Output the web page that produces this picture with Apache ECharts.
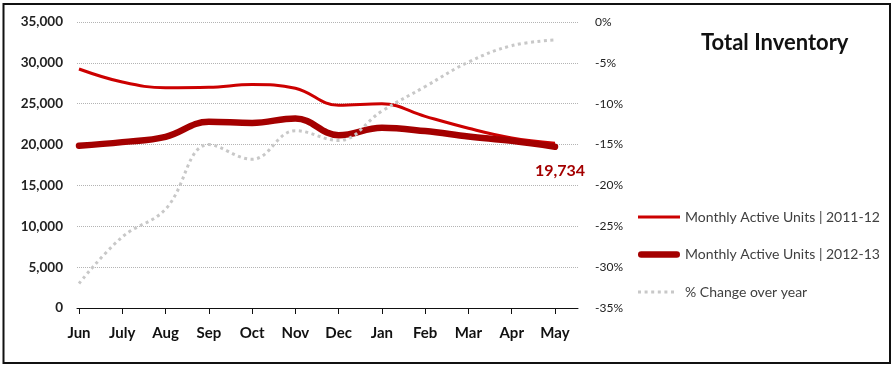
<!DOCTYPE html>
<html>
<head>
<meta charset="utf-8">
<script src="https://cdn.jsdelivr.net/npm/echarts@6/dist/echarts.min.js"></script>
<style>html,body{margin:0;padding:0;background:#fff}#c{width:893px;height:368px}</style>
</head>
<body>
<div id="c"></div>
<script>
const months = ['Jun', 'July', 'Aug', 'Sep', 'Oct', 'Nov', 'Dec', 'Jan', 'Feb', 'Mar', 'Apr', 'May'];
const units2011_12 = [29250, 27650, 26950, 27000, 27350, 26900, 24800, 25000, 23450, 22000, 20800, 20150];
const units2012_13 = [19850, 20300, 20950, 22800, 22650, 23200, 21150, 22050, 21650, 21000, 20450, 19734];
const pctChange = [-32, -26.3, -22.9, -15, -16.8, -13.3, -14.5, -10.9, -7.9, -4.9, -2.9, -2.2];
const seriesNames = ['Monthly Active Units | 2011-12', 'Monthly Active Units | 2012-13', '% Change over year'];
const titleText = 'Total Inventory';

const FONT = 'Lato, Calibri, sans-serif';
const chart = echarts.init(document.getElementById('c'), null, {renderer: 'canvas'});

// legend icons: line shapes inside a 42x14 box (tiny corner marks fix the box)
const BOX = ' M0,0h0.01v0.01h-0.01z M41.99,13.99h0.01v0.01h-0.01z';
const iconThin = 'path://M0,5.5h42v3h-42z' + BOX;
const iconThick = 'path://M3,3.75h36a3.25,3.25 0 0 1 0,6.5h-36a3.25,3.25 0 0 1 0,-6.5z' + BOX;
let dots = '';
for (let k = 0; k < 6; k++) dots += 'M' + (k * 6.6) + ',5.5h3v3h-3z ';
const iconDots = 'path://' + dots + BOX;

const lastIdx = units2012_13.length - 1;
const data1213 = units2012_13.map((v, i) => i === lastIdx ? {
  value: v,
  symbol: 'circle', symbolSize: 0.01,
  label: {
    show: true, position: 'bottom', distance: 16, offset: [5, 0],
    formatter: p => Number(p.value).toLocaleString('en-US'),
    color: '#a40000', fontWeight: 'bold', fontSize: 16, fontFamily: FONT
  }
} : v);

const option = {
  backgroundColor: '#fff',
  animation: false,
  title: {
    text: titleText, left: 701, top: 32, padding: 0,
    textStyle: {fontFamily: FONT, fontSize: 22, fontWeight: 'bold', color: '#111'}
  },
  legend: {
    orient: 'vertical', left: 638, top: 210, padding: 0,
    itemWidth: 42, itemHeight: 14, itemGap: 23.5,
    data: [
      {name: seriesNames[0], icon: iconThin},
      {name: seriesNames[1], icon: iconThick},
      {name: seriesNames[2], icon: iconDots}
    ],
    textStyle: {fontFamily: FONT, fontSize: 14, lineHeight: 14, color: '#404040'}
  },
  graphic: [{
    type: 'rect', shape: {x: 3.5, y: 4, width: 886.5, height: 359},
    style: {fill: 'none', stroke: '#111', lineWidth: 2}, silent: true, z: 100
  }],
  grid: [
    {left: 79, right: 338, top: 22, bottom: 60, outerBoundsMode: 'none', containLabel: false},
    {left: 77, right: 315, top: 22, bottom: 60, outerBoundsMode: 'none', containLabel: false}
  ],
  xAxis: [
    {
      type: 'category', gridIndex: 0, data: months, boundaryGap: false,
      axisLine: {show: true, lineStyle: {color: '#111', width: 1}},
      axisTick: {show: true, length: 6, lineStyle: {color: '#111', width: 1}},
      axisLabel: {interval: 0, margin: 18, fontFamily: FONT, fontWeight: 'bold', fontSize: 15, color: '#111'},
      splitLine: {show: false}
    },
    {
      type: 'value', gridIndex: 1, min: 0, max: 1,
      axisLine: {show: true, onZero: false, lineStyle: {color: '#111', width: 1}},
      axisTick: {show: false}, axisLabel: {show: false}, splitLine: {show: false}
    }
  ],
  yAxis: [
    {
      type: 'value', gridIndex: 0, min: 0, max: 35000, interval: 5000,
      axisLine: {show: false}, axisTick: {show: false}, splitLine: {show: false},
      axisLabel: {margin: 16, formatter: v => v.toLocaleString('en-US'), fontFamily: FONT, fontWeight: 'bold', fontSize: 13.5, color: '#222'}
    },
    {
      type: 'value', gridIndex: 0, position: 'right', min: -35, max: 0, interval: 5,
      axisLine: {show: false}, axisTick: {show: false}, splitLine: {show: false},
      axisLabel: {margin: 40, formatter: '{value}%', fontFamily: FONT, fontSize: 12, color: '#222'}
    },
    {
      type: 'value', gridIndex: 1, min: 0, max: 35000, interval: 5000,
      axisLine: {show: false}, axisTick: {show: false}, axisLabel: {show: false},
      splitLine: {show: true, lineStyle: {type: [1, 1], color: '#b4b4b4', width: 1}}
    }
  ],
  series: [
    {
      name: seriesNames[0], type: 'line', xAxisIndex: 0, yAxisIndex: 0,
      data: units2011_12, smooth: 0.4, symbol: 'none', color: '#cc0000',
      lineStyle: {color: '#cc0000', width: 3}, z: 3
    },
    {
      name: seriesNames[1], type: 'line', xAxisIndex: 0, yAxisIndex: 0,
      data: data1213, smooth: 0.4, symbol: 'none', color: '#a40000',
      lineStyle: {color: '#a40000', width: 6.5, cap: 'round'}, z: 4
    },
    {
      name: seriesNames[2], type: 'line', xAxisIndex: 0, yAxisIndex: 1,
      data: pctChange, smooth: 0.4, symbol: 'none', color: '#c8c8c8',
      lineStyle: {color: '#c8c8c8', width: 3, type: [3, 3.5]}, z: 5
    }
  ]
};
chart.setOption(option);
</script>
</body>
</html>
